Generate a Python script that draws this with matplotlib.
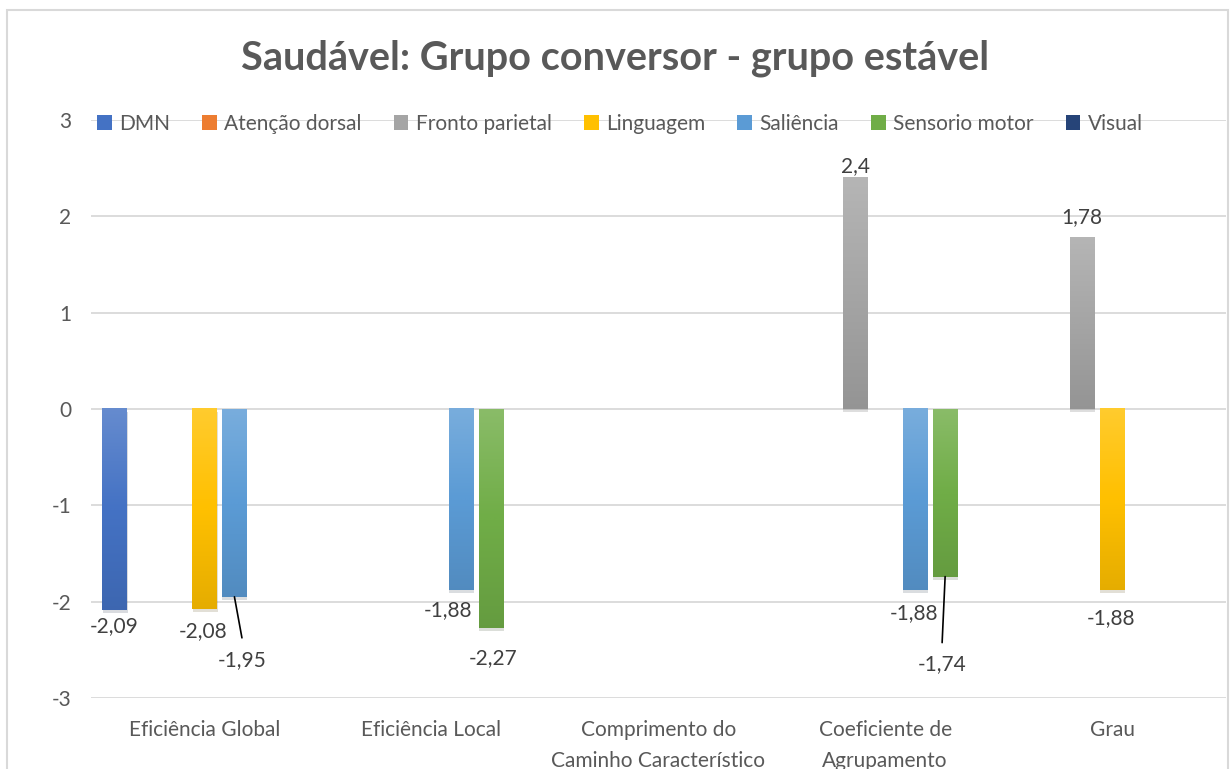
import numpy as np
import matplotlib
matplotlib.use("Agg")
from matplotlib import pyplot as plt
from matplotlib import patheffects as pe
from matplotlib.colors import to_rgb
from matplotlib.patches import Rectangle, Patch

plt.rcParams['font.family'] = ['Lato', 'DejaVu Sans']
plt.rcParams['axes.unicode_minus'] = False

nan = np.nan

categories = ["Eficiência Global", "Eficiência Local",
              "Comprimento do\nCaminho Característico",
              "Coeficiente de\nAgrupamento", "Grau"]
series_names = ["DMN", "Atenção dorsal", "Fronto parietal", "Linguagem",
                "Saliência", "Sensorio motor", "Visual"]
dmn = [-2.09, nan, nan, nan, nan]
atencao_dorsal = [nan, nan, nan, nan, nan]
fronto_parietal = [nan, nan, nan, 2.4, 1.78]
linguagem = [-2.08, nan, nan, nan, -1.88]
saliencia = [-1.95, -1.88, nan, -1.88, nan]
sensorio_motor = [nan, -2.27, nan, -1.74, nan]
visual = [nan, nan, nan, nan, nan]
y_ticks = [-3, -2, -1, 0, 1, 2, 3]

series_values = [dmn, atencao_dorsal, fronto_parietal, linguagem,
                 saliencia, sensorio_motor, visual]
colors = ["#4472C4", "#ED7D31", "#A5A5A5", "#FFC000",
          "#5B9BD5", "#70AD47", "#264478"]

# label placement (pixel offsets from the bar end), leader lines where Excel drew them
label_offsets = {
    (0, 0): (0, -16), (3, 0): (-1, -22), (4, 0): (8, -63),
    (4, 1): (-13, -20), (5, 1): (2, -30),
    (2, 3): (0, 12), (4, 3): (-1, -23), (5, 3): (-3, -87),
    (2, 4): (0, 20), (3, 4): (-1, -28),
}
leader_lines = {(4, 0): (7.5, -41), (5, 3): (-3, -66)}

text_grey = "#595959"
label_grey = "#404040"
grid_grey = "#D9D9D9"
fs = 15


def mix(c, other, t):
    c = np.array(to_rgb(c))
    return c + (np.array(other) - c) * t


fig = plt.figure(figsize=(12.3, 7.69), dpi=100)
ax = fig.add_axes([91 / 1230, 1 - 698 / 769, (1225.5 - 91) / 1230, (698 - 120) / 769])

# chart area border
fig.patches.append(Rectangle((7 / 1230, -0.05), 1221 / 1230, 1.05 - 10 / 769,
                             transform=fig.transFigure, fill=False,
                             edgecolor=grid_grey, linewidth=1.5, zorder=0))

x = np.arange(len(categories))
slot = 30 / 227
width = 25 / 227

for i, (vals, col) in enumerate(zip(series_values, colors)):
    pos = x + (i - 3) * slot
    v = np.array(vals, dtype=float)
    bars = ax.bar(pos, np.nan_to_num(v), width, color=col, zorder=2,
                  path_effects=[pe.SimplePatchShadow(offset=(0.4, -2.2), alpha=0.16),
                                pe.Normal()])
    base = np.array(to_rgb(col))
    top = mix(col, (1, 1, 1), 0.18)
    bot = mix(col, (0, 0, 0), 0.1)
    grad = np.concatenate([top + (base - top) * np.linspace(0, 1, 50)[:, None],
                           base + (bot - base) * np.linspace(0, 1, 50)[:, None]])
    grad = grad.reshape(-1, 1, 3)
    for j, rect in enumerate(bars):
        if np.isnan(v[j]):
            continue
        x0 = rect.get_x()
        hi, lo = max(0, v[j]), min(0, v[j])
        ax.imshow(grad, extent=(x0, x0 + width, lo, hi), aspect='auto',
                  origin='upper', zorder=3, interpolation='bilinear')
        dx, dy = label_offsets[(i, j)]
        ax.annotate(('%g' % v[j]).replace('.', ','), xy=(pos[j], v[j]),
                    xytext=(dx, dy), textcoords='offset pixels',
                    ha='center', va='center', fontsize=fs, color=label_grey,
                    zorder=5)
        if (i, j) in leader_lines:
            lx, ly = leader_lines[(i, j)]
            ax.annotate('', xy=(pos[j], v[j]), xytext=(lx, ly),
                        textcoords='offset pixels',
                        arrowprops=dict(arrowstyle='-', color='black', lw=1.2,
                                        shrinkA=0, shrinkB=0), zorder=5)

ax.set_xlim(-0.5, len(categories) - 0.5)
ax.set_ylim(-3, 3)
ax.set_yticks(y_ticks)
ax.set_yticklabels([str(t) for t in y_ticks])
ax.set_xticks(x)
ax.set_xticklabels(categories, linespacing=1.7)
ax.yaxis.grid(True, color=grid_grey, linewidth=1.3, zorder=0)
ax.set_axisbelow(True)
for s in ax.spines.values():
    s.set_visible(False)
ax.tick_params(axis='both', length=0, labelsize=fs, colors=text_grey)
ax.tick_params(axis='y', pad=14)
ax.tick_params(axis='x', pad=16)

fig.text(0.5, 1 - 58 / 769, "Saudável: Grupo conversor - grupo estável",
         ha='center', va='center', fontsize=28.5, fontweight='bold', color=text_grey)

handles = [Patch(facecolor=c, edgecolor='none') for c in colors]
fig.legend(handles, series_names, loc='center', bbox_to_anchor=(0.504, 1 - 124 / 769),
           ncol=7, frameon=False, fontsize=fs, handlelength=0.7, handleheight=0.7,
           handletextpad=0.35, columnspacing=1.55, labelcolor=text_grey)

fig.savefig("out.png", dpi=100)
